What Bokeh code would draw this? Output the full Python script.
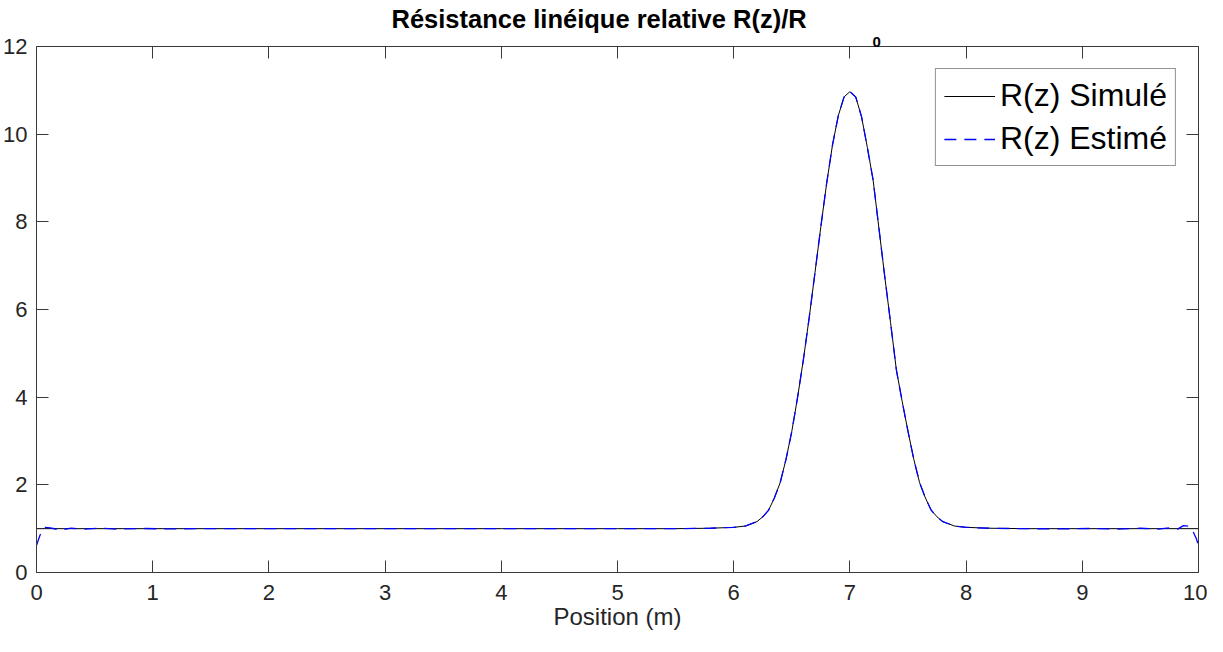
from bokeh.plotting import figure
from bokeh.models import LinearAxis, Range1d, Legend, LegendItem, FixedTicker, Title
from bokeh.embed import file_html
from bokeh.resources import INLINE

# Simulated R(z)/R0
sim_x = [0, 1, 2, 3, 4, 5, 5.5, 5.8, 6.0, 6.1, 6.2, 6.25, 6.3, 6.35, 6.4, 6.45, 6.5,
         6.55, 6.6, 6.65, 6.7, 6.75, 6.8, 6.85, 6.9, 6.95, 7.0, 7.05, 7.1, 7.15, 7.2,
         7.25, 7.3, 7.35, 7.4, 7.45, 7.5, 7.55, 7.6, 7.65, 7.7, 7.75, 7.8, 7.9, 8.0,
         8.2, 8.5, 9, 10]
sim_y = [1.0, 1.0, 1.0, 1.0, 1.0, 1.0, 1.0, 1.01, 1.03, 1.06, 1.16, 1.27, 1.42, 1.70,
         2.05, 2.58, 3.22, 4.00, 4.86, 5.82, 6.85, 7.89, 8.88, 9.75, 10.42, 10.85,
         10.97, 10.85, 10.40, 9.70, 8.95, 7.85, 6.75, 5.70, 4.62, 3.90, 3.22, 2.58,
         2.05, 1.70, 1.42, 1.27, 1.16, 1.06, 1.03, 1.01, 1.0, 1.0, 1.0]

# Estimated R(z)/R0 (edge ripples)
est_x = [0.0, 0.03, 0.07, 0.12, 0.2, 0.3, 0.4, 0.55, 0.7, 0.9, 1.1, 1.4, 1.8, 2.5,
         3.5, 4.5, 5.5, 5.8, 6.0, 6.1, 6.2, 6.25, 6.3, 6.35, 6.4, 6.45, 6.5,
         6.55, 6.6, 6.65, 6.7, 6.75, 6.8, 6.85, 6.9, 6.95, 7.0, 7.05, 7.1, 7.15, 7.2,
         7.25, 7.3, 7.35, 7.4, 7.45, 7.5, 7.55, 7.6, 7.65, 7.7, 7.75, 7.8, 7.9, 8.0,
         8.2, 8.5, 8.8, 9.1, 9.3, 9.5, 9.65, 9.75, 9.82, 9.87, 9.91, 9.95, 9.98, 10.0]
est_y = [0.62, 0.85, 1.03, 1.02, 0.97, 1.01, 0.99, 1.01, 0.99, 1.005, 0.995, 1.0, 1.0, 1.0,
         1.0, 1.0, 1.0, 1.01, 1.03, 1.06, 1.16, 1.27, 1.42, 1.70,
         2.05, 2.58, 3.22, 4.00, 4.86, 5.82, 6.85, 7.89, 8.88, 9.75, 10.42, 10.85,
         10.97, 10.85, 10.40, 9.70, 8.95, 7.85, 6.75, 5.70, 4.62, 3.90, 3.22, 2.58,
         2.05, 1.70, 1.42, 1.27, 1.16, 1.06, 1.03, 1.01, 1.0, 0.995, 1.005, 0.99, 1.01,
         0.99, 1.02, 0.99, 1.07, 1.06, 0.95, 0.78, 0.62]

x_ticks = [0, 1, 2, 3, 4, 5, 6, 7, 8, 9, 10]
y_ticks = [0, 2, 4, 6, 8, 10, 12]

title_main = "Résistance linéique relative R(z)/R"
title_sub = "0"
x_label = "Position (m)"
leg_sim = "R(z) Simulé"
leg_est = "R(z) Estimé"

FONT = "Liberation Sans"
AX = "#3a3a3a"

p = figure(width=1207, height=636, output_backend="svg", toolbar_location=None,
           x_range=Range1d(0, 10), y_range=Range1d(0, 12),
           min_border_left=34, min_border_right=9, min_border_top=45, min_border_bottom=64)
p.xgrid.visible = False
p.ygrid.visible = False
p.outline_line_color = None

r_sim = p.line(sim_x, sim_y, line_color="black", line_width=1.0)
r_est = p.line(est_x, est_y, line_color="#0000ff", line_width=1.3, line_dash="12 8")

xa = p.xaxis[0]
ya = p.yaxis[0]
top = LinearAxis()
right = LinearAxis()
p.add_layout(right, "right")
for ax in (xa, top):
    ax.ticker = FixedTicker(ticks=x_ticks)
for ax in (ya, right):
    ax.ticker = FixedTicker(ticks=y_ticks)
for ax, lab in ((xa, True), (ya, True), (top, False), (right, False)):
    ax.axis_line_color = AX
    ax.axis_line_width = 1
    ax.major_tick_line_color = AX
    ax.major_tick_in = 12
    ax.major_tick_out = 0
    ax.minor_tick_line_color = None
    ax.major_label_text_font = FONT
    ax.major_label_text_font_size = "22px" if lab else "0px"
    ax.major_label_text_color = "#262626" if lab else None
    if not lab:
        ax.major_label_standoff = 0
xa.major_label_standoff = 12
ya.major_label_standoff = 9
xa.axis_label = x_label
xa.axis_label_text_font = FONT
xa.axis_label_text_font_size = "24px"
xa.axis_label_text_font_style = "normal"
xa.axis_label_text_color = "#262626"
xa.axis_label_standoff = 0

t_main = Title(text=title_main, align="left", offset=355, standoff=4,
               text_font=FONT, text_font_size="25.5px", text_font_style="bold",
               text_color="black")
t_sub = Title(text=title_sub, align="left", offset=836, standoff=0,
              text_font=FONT, text_font_size="15px", text_font_style="bold",
              text_color="black")
p.above = [top, t_sub, t_main]

legend = Legend(items=[LegendItem(label=leg_sim, renderers=[r_sim]),
                       LegendItem(label=leg_est, renderers=[r_est])],
                location="top_right", margin=22, padding=8, spacing=6,
                glyph_width=51, glyph_height=36, label_height=36,
                label_standoff=5,
                label_text_font=FONT, label_text_font_size="32px",
                label_text_color="black",
                border_line_color="#262626", border_line_width=1,
                background_fill_color="white", background_fill_alpha=1)
p.add_layout(legend)

open("out.html", "w").write(file_html(p, INLINE))
